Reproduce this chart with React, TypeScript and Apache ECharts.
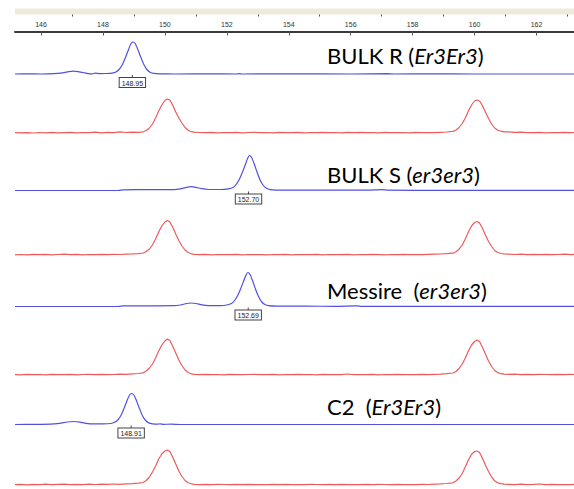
import React, { useEffect, useRef } from "react";
import * as echarts from "echarts";

// ---- axis (size in bp) ----
const X_MIN = 145.16;
const X_MAX = 163.21;
const majorTicks = [146, 148, 150, 152, 154, 156, 158, 160, 162];
const minorTicks = [147, 149, 151, 153, 155, 157, 159, 161, 163];

// ---- sample labels ----
const sampleNames = ["BULK R", "BULK S", "Messire ", "C2 "];
const genotypes = ["Er3Er3", "er3er3", "er3er3", "Er3Er3"];

// ---- called peaks (blue traces) ----
const peakCalls = [148.95, 152.7, 152.69, 148.91];
const peakCallLabels = ["148.95", "152.70", "152.69", "148.91"];

// ---- blue traces: [size, signal] ----
const blueBulkR = [
  [145.16, 0], [145.6, 0.2], [146.0, 0], [146.4, 0.3], [146.7, 1.2], [146.9, 2.3], [147.05, 2.8],
  [147.2, 2.3], [147.4, 1.2], [147.55, 0.3], [147.65, 0.1], [147.75, 0.9], [147.9, 0.4], [148.1, 0.5],
  [148.3, 0.9], [148.42, 2], [148.52, 4.5], [148.62, 9], [148.72, 16], [148.82, 24], [148.9, 30],
  [148.97, 32], [149.04, 30.5], [149.12, 25], [149.22, 17], [149.32, 9.5], [149.42, 4.5], [149.52, 1.8],
  [149.65, 0.6], [149.85, 0.2], [150.3, 0], [151.5, 0.1], [152.3, 0], [152.4, 0.4], [152.5, 0],
  [154, 0.1], [156, 0], [157.2, 0.3], [157.4, 0], [158.5, 0.1], [160, 0], [163.21, 0],
];
const blueBulkS = [
  [145.16, 0], [147, 0], [148.5, 0], [148.65, 0.7], [149.5, 0.8], [150.3, 0.8], [150.5, 1.6],
  [150.7, 3.2], [150.85, 3.8], [151.0, 3.2], [151.2, 1.8], [151.4, 1.0], [151.8, 1.0], [152.05, 1.6],
  [152.2, 3], [152.3, 6], [152.4, 11], [152.5, 18], [152.6, 26], [152.67, 32], [152.73, 35],
  [152.8, 33], [152.88, 27], [152.98, 18], [153.08, 10], [153.18, 5], [153.28, 2.2], [153.4, 0.9],
  [153.6, 0.4], [154.0, 0.3], [155, 0.3], [156.5, 0.3], [157.0, 0.9], [157.2, 0.3], [158, 0.2],
  [160, 0.2], [163.21, 0.2],
];
const blueMessire = [
  [145.16, 0], [147, 0], [148.5, 0], [148.65, 0.6], [149.5, 0.7], [150.3, 0.8], [150.5, 1.5],
  [150.7, 3.0], [150.85, 3.5], [151.0, 3.0], [151.2, 1.6], [151.4, 0.9], [151.8, 0.9], [152.0, 1.5],
  [152.15, 3], [152.25, 6], [152.35, 11], [152.45, 18], [152.55, 26], [152.62, 31.5], [152.68, 34],
  [152.75, 32], [152.83, 26], [152.93, 17], [153.03, 9.5], [153.13, 4.5], [153.23, 2], [153.35, 0.8],
  [153.6, 0.3], [154.5, 0.3], [155.5, 0.2], [156.2, 0.6], [156.35, 0.2], [158, 0.1], [160, 0.1],
  [163.21, 0.1],
];
const blueC2 = [
  [145.16, 0], [145.8, 0.1], [146.3, 0.3], [146.6, 1.2], [146.85, 2.5], [147.05, 3.0], [147.25, 2.4],
  [147.45, 1.2], [147.7, 0.6], [148.0, 0.6], [148.25, 1.0], [148.38, 2.2], [148.48, 4.5], [148.58, 9],
  [148.68, 16], [148.78, 24], [148.86, 29.5], [148.93, 31], [149.0, 29.5], [149.08, 24], [149.18, 16],
  [149.28, 8.5], [149.38, 4], [149.48, 1.6], [149.6, 0.6], [149.75, 0.3], [149.85, 0.7], [149.95, 0.2],
  [150.2, 0.3], [150.5, 0], [152, 0], [154, 0], [156, 0], [158, 0], [160, 0], [163.21, 0],
];

// ---- red traces (size standard): shared sizes, separate signals ----
const redX = [
  145.16, 145.35, 145.55, 145.75, 145.95, 146.15, 146.35, 146.55, 146.75, 146.95, 147.15, 147.35, 147.55,
  147.75, 147.95, 148.15, 148.35, 148.55, 148.75, 148.95, 149.15,
  149.3, 149.4, 149.5, 149.6, 149.7, 149.8, 149.9, 150.0, 150.08, 150.16, 150.25, 150.35, 150.45, 150.55,
  150.65, 150.75, 150.85, 150.95,
  151.1, 151.3, 151.5, 151.7, 151.9, 152.1, 152.3, 152.5, 152.7, 152.9, 153.1, 153.3, 153.5, 153.7, 153.9,
  154.1, 154.3, 154.5, 154.7, 154.9, 155.1, 155.3, 155.5, 155.7, 155.9, 156.1, 156.3, 156.5, 156.7, 156.9,
  157.1, 157.3, 157.5, 157.7, 157.9, 158.1, 158.3, 158.5, 158.7, 158.9, 159.1,
  159.3, 159.4, 159.5, 159.6, 159.7, 159.8, 159.9, 160.0, 160.08, 160.16, 160.25, 160.35, 160.45, 160.55,
  160.65, 160.75, 160.85, 160.95,
  161.1, 161.3, 161.5, 161.7, 161.9, 162.1, 162.3, 162.5, 162.7, 162.9, 163.1, 163.21,
];
const red1Y = [
  0.3, 0.1, 0.4, 0, 0.5, 0.2, 0.6, 0.1, 0.4, 0.7, 0.2, 0.5, 0.3, 0.8, 0.2, 0.6, 0.4, 1.2, 0.5, 0.9, 0.6,
  1.2, 2.5, 5, 9, 15, 22, 28, 32.5, 34, 33, 28, 21, 15, 10, 5.5, 2.8, 1.3, 0.8,
  0.5, 0.3, 0.6, 0.2, 0.5, 0.3, 0.6, 0.2, 0.5, 0.7, 0.3, 0.5, 0.2, 0.6, 0.4, 0.3, 0.7, 0.2, 0.5, 0.4,
  0.6, 0.3, 0.5, 0.2, 0.6, 0.4, 0.7, 0.3, 0.5, 0.2, 0.6, 0.4, 0.3, 0.5, 0.2, 0.6, 0.3, 0.5, 0.4, 0.7, 1.0,
  1.6, 3, 5.5, 9.5, 15, 22, 28, 32, 33, 32, 27.5, 21, 14.5, 9, 5, 2.8, 1.8, 1.2,
  1.1, 0.6, 0.9, 0.4, 0.3, 0.6, 0.2, 0.5, 0.3, 0.6, 0.4, 0.5,
];
const red2Y = [
  0.2, 0.5, 0.1, 0.6, 0.3, 0.7, 0.2, 0.5, 0.8, 0.3, 0.6, 0.2, 0.5, 0.4, 0.7, 0.3, 0.6, 0.5, 0.9, 1.1, 1.4,
  2, 3.5, 6, 10, 16, 23, 29, 33, 34.5, 33, 28, 21, 14.5, 9, 5, 2.5, 1.2, 0.6,
  0.3, 0.6, 0.2, 0.5, 0.4, 0.3, 0.6, 0.2, 0.5, 0.3, 0.4, 0.2, 0.5, 0.3, 0.6, 0.2, 0.4, 0.5, 0.3, 0.6,
  0.2, 0.5, 0.3, 0.4, 0.6, 0.2, 0.5, 0.3, 0.6, 0.4, 0.2, 0.5, 0.3, 0.6, 0.4, 0.5, 0.3, 0.6, 0.8, 1.0, 1.3,
  1.8, 3.2, 5.8, 10, 16, 23, 29, 32.5, 33.5, 32, 27, 20, 13.5, 8.5, 4.5, 2.5, 1.5, 1.1,
  0.9, 0.5, 0.8, 0.3, 0.6, 0.4, 0.7, 0.3, 0.5, 0.8, 0.4, 0.6,
];
const red3Y = [
  0.4, 0.2, 0.6, 0.3, 0.5, 0.1, 0.6, 0.4, 0.3, 0.7, 0.2, 0.5, 0.6, 0.3, 0.7, 0.4, 0.5, 0.8, 0.6, 1.2, 1.5,
  2.2, 4, 7, 11, 17, 24, 30, 34, 36, 34.5, 29, 22, 15, 9.5, 5, 2.5, 1.2, 0.7,
  0.4, 0.6, 0.3, 0.5, 0.2, 0.6, 0.4, 0.3, 0.5, 0.7, 0.3, 0.4, 0.6, 0.2, 0.5, 0.3, 0.6, 0.4, 0.5, 0.2,
  0.6, 0.3, 0.5, 0.4, 1.0, 0.4, 0.5, 0.3, 0.6, 0.2, 0.5, 0.4, 0.6, 0.3, 0.5, 0.4, 0.6, 0.3, 0.7, 0.9, 1.3,
  2, 3.5, 6.5, 11, 17, 24, 30, 33.5, 35, 33.5, 28, 21, 14, 8.5, 4.5, 2.4, 1.3, 0.9,
  0.6, 0.8, 0.4, 0.7, 0.3, 0.6, 0.5, 0.3, 0.6, 0.4, 0.7, 0.5,
];
const red4Y = [
  0.3, 0.6, 0.2, 0.7, 0.4, 0.8, 0.3, 0.6, 0.9, 0.4, 0.7, 0.3, 0.8, 0.5, 0.9, 0.6, 1.0, 0.7, 1.1, 1.4, 1.8,
  2.5, 4.5, 8, 13, 19, 26, 31, 34, 35, 33.5, 28, 21, 14, 8.5, 4.5, 2.3, 1.2, 0.7,
  0.4, 0.7, 0.3, 0.6, 0.5, 0.3, 0.7, 0.4, 0.6, 0.3, 0.5, 0.4, 0.7, 0.3, 0.6, 0.4, 0.5, 0.3, 0.6, 0.5,
  0.4, 0.7, 0.3, 0.6, 0.4, 0.5, 0.3, 0.6, 0.4, 0.7, 0.5, 0.3, 0.6, 0.4, 0.5, 0.3, 0.6, 0.5, 0.8, 1.1, 1.5,
  2.2, 4, 7, 11.5, 18, 25, 30.5, 33.5, 34, 32.5, 27, 20, 13.5, 8, 4.2, 2.2, 1.3, 0.9,
  0.7, 0.4, 0.8, 0.3, 0.6, 1.0, 0.4, 0.6, 0.3, 0.5, 0.4, 0.6,
];

// ---- layout ----
const BLUE = "#5050e2";
const RED = "#ee5a5a";
const W = 574;
const H = 489;
const PLOT_LEFT = 15;
const Y_MIN = -3;
const Y_MAX = 37;

const zip = (xs: number[], ys: number[]) =>
  xs.map((x, i) => [x, ys[i]]).filter((p) => p[1] !== undefined);

const lanes = [
  { data: blueBulkR, color: BLUE, base: 74, call: 0, smooth: 0.2 },
  { data: zip(redX, red1Y), color: RED, base: 133, call: -1, smooth: false },
  { data: blueBulkS, color: BLUE, base: 190.5, call: 1, smooth: 0.2 },
  { data: zip(redX, red2Y), color: RED, base: 255, call: -1, smooth: false },
  { data: blueMessire, color: BLUE, base: 306.5, call: 2, smooth: 0.2 },
  { data: zip(redX, red3Y), color: RED, base: 375, call: -1, smooth: false },
  { data: blueC2, color: BLUE, base: 424.5, call: 3, smooth: 0.2 },
  { data: zip(redX, red4Y), color: RED, base: 485, call: -1, smooth: false },
];
const labelCenters = [55, 174, 290, 406];

export default function App() {
  const ref = useRef<HTMLDivElement>(null);
  useEffect(() => {
    document.body.style.margin = "0";
    const chart = echarts.init(ref.current!, null, { renderer: "svg" });

    const grids: any[] = [{ left: PLOT_LEFT, right: 0, top: 14.5, height: 17 }];
    const xAxes: any[] = [
      {
        gridIndex: 0, type: "value", min: X_MIN, max: X_MAX, position: "top",
        axisLine: { show: true, lineStyle: { color: "#c4c0ac", width: 1 } },
        axisTick: { show: true, inside: true, length: 4, customValues: majorTicks, lineStyle: { color: "#555", width: 1 } },
        axisLabel: { show: true, inside: true, margin: 6, customValues: majorTicks, fontSize: 7, color: "#333", fontFamily: "Liberation Sans" },
        splitLine: { show: false },
      },
      {
        gridIndex: 0, type: "value", min: X_MIN, max: X_MAX, position: "top",
        axisLine: { show: false },
        axisTick: { show: true, inside: true, length: 2, customValues: minorTicks, lineStyle: { color: "#555", width: 1 } },
        axisLabel: { show: false },
        splitLine: { show: false },
      },
      {
        gridIndex: 0, type: "value", min: X_MIN, max: X_MAX, position: "bottom",
        axisLine: { show: true, lineStyle: { color: "#3a3a3a", width: 2 } },
        axisTick: { show: false }, axisLabel: { show: false }, splitLine: { show: false },
      },
    ];
    const yAxes: any[] = [{ gridIndex: 0, type: "value", min: 0, max: 1, show: false }];
    const series: any[] = [];

    lanes.forEach((lane, i) => {
      const g = i + 1;
      grids.push({ left: PLOT_LEFT, right: 0, top: lane.base - Y_MAX, height: Y_MAX - Y_MIN });
      xAxes.push({ gridIndex: g, type: "value", min: X_MIN, max: X_MAX, show: false });
      yAxes.push({ gridIndex: g, type: "value", min: Y_MIN, max: Y_MAX, show: false });
      const s: any = {
        type: "line",
        xAxisIndex: 3 + i,
        yAxisIndex: g,
        data: lane.data,
        showSymbol: false,
        smooth: lane.smooth,
        lineStyle: { color: lane.color, width: 1.2 },
        itemStyle: { color: lane.color },
        silent: true,
      };
      if (lane.call >= 0) {
        s.markPoint = {
          symbol: "rect",
          symbolSize: [1, 3],
          symbolOffset: [0, 2.5],
          itemStyle: { color: "#444" },
          label: {
            show: true,
            position: "bottom",
            distance: 0,
            formatter: "{b}",
            fontSize: 7,
            fontFamily: "Liberation Sans",
            color: "#222",
            backgroundColor: "#fff",
            borderColor: "#444",
            borderWidth: 1,
            padding: [1, 2, 0, 2],
            lineHeight: 8,
          },
          data: [{ name: peakCallLabels[lane.call], coord: [peakCalls[lane.call], 0] }],
        };
      }
      series.push(s);
    });

    const rich = {
      n: { fontSize: 22, fontFamily: "Lato", color: "#111", lineHeight: 26 },
      i: { fontSize: 22, fontFamily: "Lato", fontStyle: "italic", color: "#111", lineHeight: 26 },
    };
    const graphics: any[] = [
      { type: "rect", shape: { x: PLOT_LEFT, y: 8.5, width: W - PLOT_LEFT, height: 6 }, style: { fill: "#efebdc" }, z: -1 },
    ];
    sampleNames.forEach((name, k) => {
      graphics.push({
        type: "text",
        x: 327,
        y: labelCenters[k],
        style: {
          text: `{n|${name} (}{i|${genotypes[k]}}{n|)}`,
          rich,
          verticalAlign: "middle",
          align: "left",
        },
      });
    });

    chart.setOption({
      animation: false,
      backgroundColor: "#ffffff",
      grid: grids,
      xAxis: xAxes,
      yAxis: yAxes,
      series,
      graphic: graphics,
    });
    return () => chart.dispose();
  }, []);
  return <div ref={ref} style={{ width: W, height: H }} />;
}
